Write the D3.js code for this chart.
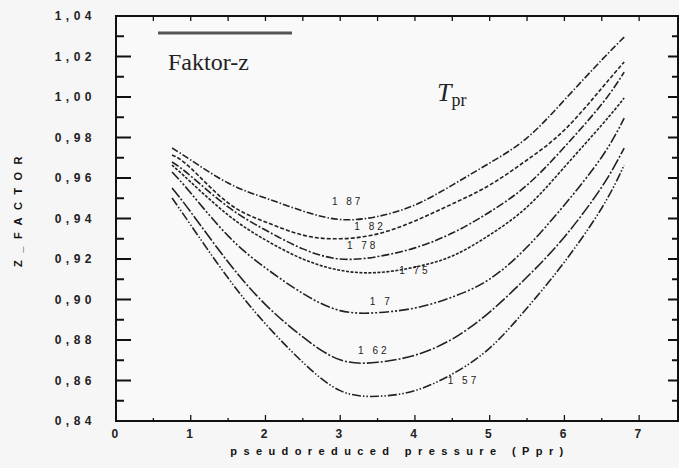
<!DOCTYPE html>
<html>
<head>
<meta charset="utf-8">
<script src="https://cdn.jsdelivr.net/npm/d3@7"></script>
<style>
  body { margin: 0; background: #f6f6f6; }
  svg { display: block; }
  .tick-lab { font-family: "Liberation Sans", Arial, sans-serif; font-weight: bold; font-size: 12px; fill: #222; letter-spacing: 4.5px; }
  .axis-title { font-family: "Liberation Sans", Arial, sans-serif; font-weight: bold; font-size: 11px; fill: #111; }
  .curve-lab { font-family: "Liberation Sans", Arial, sans-serif; font-size: 10px; fill: #222; letter-spacing: 3px; }
</style>
</head>
<body>
<script>
// pseudoreduced pressure grid
var pprGrid = [0.75, 1.0, 1.5, 2.0, 2.5, 3.0, 3.5, 4.0, 4.5, 5.0, 5.5, 6.0, 6.5, 6.8];

// z factor per Tpr curve
var z187 = [0.9748, 0.9689, 0.9575, 0.9501, 0.9437, 0.9395, 0.9410, 0.9467, 0.9565, 0.9674, 0.9798, 0.9985, 1.0183, 1.0296];
var z182 = [0.9714, 0.9649, 0.9477, 0.9383, 0.9318, 0.9300, 0.9324, 0.9388, 0.9472, 0.9565, 0.9689, 0.9837, 1.0044, 1.0173];
var z178 = [0.9679, 0.9610, 0.9457, 0.9343, 0.9250, 0.9200, 0.9212, 0.9255, 0.9328, 0.9432, 0.9565, 0.9753, 0.9965, 1.0123];
var z175 = [0.9664, 0.9580, 0.9417, 0.9294, 0.9200, 0.9144, 0.9133, 0.9160, 0.9215, 0.9319, 0.9457, 0.9654, 0.9862, 0.9995];
var z170 = [0.9630, 0.9526, 0.9314, 0.9156, 0.9030, 0.8945, 0.8935, 0.8958, 0.9012, 0.9101, 0.9259, 0.9467, 0.9704, 0.9896];
var z162 = [0.9551, 0.9432, 0.9185, 0.8975, 0.8815, 0.8702, 0.8690, 0.8725, 0.8805, 0.8938, 0.9111, 0.9309, 0.9556, 0.9748];
var z157 = [0.9501, 0.9368, 0.9106, 0.8880, 0.8690, 0.8550, 0.8522, 0.8550, 0.8632, 0.8760, 0.8958, 0.9185, 0.9452, 0.9664];

var curveNames = ["1 87", "1 82", "1 78", "1 75", "1 7", "1 62", "1 57"];
var curveValues = [z187, z182, z178, z175, z170, z162, z157];
// where each label sits (ppr, z)
var labelPpr = [3.1, 3.4, 3.3, 4.0, 3.55, 3.45, 4.65];
var labelZ = [0.9465, 0.9345, 0.925, 0.9125, 0.8975, 0.873, 0.8585];

var xTicks = [0, 1, 2, 3, 4, 5, 6, 7];
var yTicks = [0.84, 0.86, 0.88, 0.90, 0.92, 0.94, 0.96, 0.98, 1.00, 1.02, 1.04];

var dashes = ["7,2,1.5,2", "4,2", "8,2,2,2", "3,1.5", "10,2,2,2,2,2", "12,2,2,2", "9,2,1.5,2,1.5,2"];

var W = 679, H = 468;
var box = { left: 116, right: 678, top: 16, bottom: 421 };

var svg = d3.select("body").append("svg")
    .attr("width", W)
    .attr("height", H);

var x = d3.scaleLinear().domain([0, 7.52]).range([box.left, box.right]);
var y = d3.scaleLinear().domain([0.84, 1.04]).range([box.bottom, box.top]);

var fmt = function (d) {
    return d3.format(".2f")(d).replace(".", ",");
};

// frame
svg.append("rect")
    .attr("x", box.left).attr("y", box.top)
    .attr("width", box.right - box.left).attr("height", box.bottom - box.top)
    .attr("fill", "white").attr("fill-opacity", 0.35)
    .attr("stroke", "#111").attr("stroke-width", 2);

// y ticks: every 0.01, long at labelled values
var yAll = d3.range(0, 21).map(function (i) { return 0.84 + i * 0.01; });
yAll.forEach(function (v, i) {
    var major = i % 2 == 0;
    svg.append("line")
        .attr("x1", box.left).attr("x2", box.left + (major ? 15 : 8))
        .attr("y1", y(v)).attr("y2", y(v))
        .attr("stroke", "#111").attr("stroke-width", 2);
    svg.append("line")
        .attr("x1", box.right).attr("x2", box.right - (major ? 10 : 6))
        .attr("y1", y(v)).attr("y2", y(v))
        .attr("stroke", "#111").attr("stroke-width", 2);
});

// x ticks every 0.5, top and bottom
d3.range(0, 15).forEach(function (i) {
    var v = i * 0.5;
    var major = i % 2 == 0;
    svg.append("line")
        .attr("x1", x(v)).attr("x2", x(v))
        .attr("y1", box.bottom).attr("y2", box.bottom - (major ? 6 : 3))
        .attr("stroke", "#111").attr("stroke-width", 1.3);
    svg.append("line")
        .attr("x1", x(v)).attr("x2", x(v))
        .attr("y1", box.top).attr("y2", box.top + 5)
        .attr("stroke", "#111").attr("stroke-width", 1.3);
});

svg.selectAll(".ylab")
    .data(yTicks)
    .enter().append("text")
    .attr("class", "tick-lab")
    .attr("x", 96)
    .attr("y", function (d) { return y(d) + 4; })
    .attr("text-anchor", "end")
    .text(fmt);

svg.selectAll(".xlab")
    .data(xTicks)
    .enter().append("text")
    .attr("class", "tick-lab")
    .attr("x", function (d) { return x(d) + 1; })
    .attr("y", 438)
    .attr("text-anchor", "middle")
    .text(function (d) { return d; });

svg.append("text")
    .attr("class", "axis-title")
    .attr("x", 400).attr("y", 455)
    .attr("text-anchor", "middle")
    .style("letter-spacing", "6.4px")
    .text("pseudoreduced pressure (Ppr)");

svg.append("text")
    .attr("class", "axis-title")
    .attr("transform", "translate(22,208) rotate(-90)")
    .attr("text-anchor", "middle")
    .style("letter-spacing", "7.5px")
    .text("Z_FACTOR");

// curves
var line = d3.line()
    .x(function (d) { return x(d[0]); })
    .y(function (d) { return y(d[1]); })
    .curve(d3.curveNatural);

curveValues.forEach(function (vals, i) {
    var pts = pprGrid.map(function (p, j) { return [p, vals[j]]; });
    svg.append("path")
        .datum(pts)
        .attr("d", line)
        .attr("fill", "none")
        .attr("stroke", "#222")
        .attr("stroke-width", 1.6)
        .attr("stroke-dasharray", dashes[i]);
    svg.append("text")
        .attr("class", "curve-lab")
        .attr("x", x(labelPpr[i]))
        .attr("y", y(labelZ[i]))
        .attr("text-anchor", "middle")
        .text(curveNames[i]);
});

// header line and titles
svg.append("line")
    .attr("x1", 158).attr("x2", 292)
    .attr("y1", 33).attr("y2", 33)
    .attr("stroke", "#555").attr("stroke-width", 3);

svg.append("text")
    .attr("x", 168).attr("y", 70)
    .style("font-family", "'Liberation Serif', 'Times New Roman', serif")
    .style("font-size", "24px")
    .style("fill", "#222")
    .text("Faktor-z");

var tpr = svg.append("text")
    .attr("x", 437).attr("y", 101)
    .style("font-family", "'Liberation Serif', 'Times New Roman', serif")
    .style("fill", "#222");
tpr.append("tspan")
    .style("font-style", "italic")
    .style("font-size", "26px")
    .text("T");
tpr.append("tspan")
    .attr("dy", 5)
    .style("font-size", "18px")
    .text("pr");
</script>
</body>
</html>
